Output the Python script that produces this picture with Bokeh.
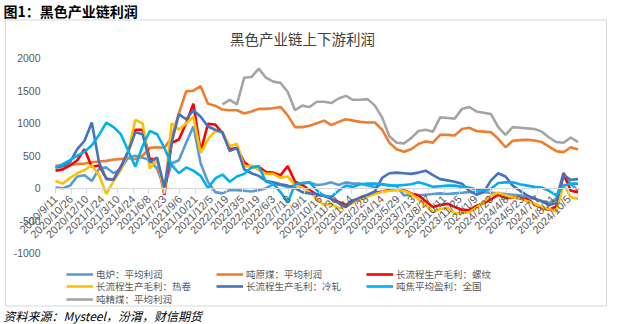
import math
from datetime import datetime, timedelta
import pandas as pd
from bokeh.plotting import figure
from bokeh.models import (Range1d, FixedTicker, Legend, LegendItem, Label,
                          BoxAnnotation, ColumnDataSource)
from bokeh.embed import file_html
from bokeh.resources import INLINE

NaN = float("nan")

# sample dates (every three weeks)
dates = pd.date_range("2020-09-11", periods=73, freq="21D")

tick_labels = ["2020/9/11", "2020/10/26", "2020/12/10", "2021/1/24", "2021/3/10",
               "2021/4/24", "2021/6/8", "2021/7/23", "2021/9/6", "2021/10/21",
               "2021/12/5", "2022/1/19", "2022/3/5", "2022/4/19", "2022/6/3",
               "2022/7/18", "2022/9/1", "2022/10/16", "2022/11/30", "2023/1/14",
               "2023/2/28", "2023/4/14", "2023/5/29", "2023/7/13", "2023/8/27",
               "2023/10/11", "2023/11/25", "2024/1/9", "2024/2/23", "2024/4/8",
               "2024/5/23", "2024/7/7", "2024/8/21", "2024/10/5"]

y_ticks = [-1000, -500, 0, 500, 1000, 1500, 2000]
y_tick_labels = ["-1000", "-500", "0", "500", "1000", "1500", "2000"]

series_names = ["电炉：平均利润", "吨原煤：平均利润", "长流程生产毛利：螺纹",
                "长流程生产毛利：热卷", "长流程生产毛利：冷轧", "吨焦平均盈利：全国",
                "吨精煤：平均利润"]
series_colors = ["#5B9BD5", "#ED7D31", "#FF0000", "#FFC000", "#4472C4", "#00B0F0", "#A5A5A5"]

eaf = [10, 0, 40, 180, 200, 110, 300, 320, 230, 300, 470, 500, 470, 430, 300, 10,
       380, 430, 700, 950, 380, 100, -60, -80, -30, -30, -40, -50, -30, 0, 60, 50,
       20, 40, 70, 90, 50, 60, 90, 50, 90, 70, 70, 40, 20, 60, 50, 30, -110, -100,
       -110, -100, -90, -80, -90, -80, -70, -60, -60, -60, -70, -80, -90, -100, -110,
       -140, -160, -200, -230, -160, 240, 60, -30]

raw_coal = [350, 340, 360, 370, 380, 400, 410, 420, 440, 450, 460, 450, 500, 620, 630,
            620, 780, 1150, 1490, 1500, 1570, 1300, 1270, 1210, 1200, 1200, 1150, 1180,
            1220, 1220, 1230, 1250, 1120, 940, 940, 960, 1000, 1040, 970, 1020, 1060,
            1040, 1020, 1010, 1010, 900, 700, 600, 560, 600, 680, 720, 700, 820, 820,
            810, 910, 930, 880, 870, 860, 760, 630, 730, 740, 745, 735, 710, 640, 570,
            555, 630, 595]

rebar = [270, 290, 350, 430, 600, 330, 350, 150, 130, 330, 560, 900, 900, 450, 450, -100,
         700, 750, 1000, 1300, 560, 990, 980, 850, 600, 620, 400, 320, 330, 250, 240, 200,
         340, 100, 50, -30, -100, -120, -160, -210, -260, -190, -150, -110, -70, -50, -30,
         -20, -30, -80, -110, -200, -290, -260, -240, -290, -330, -340, -270, -230, -170,
         -100, -150, -140, -150, -170, -250, -300, -330, -280, 220, -40, -60]

hrc = [110, 70, 160, 230, 280, 350, 200, -90, 110, 280, 560, 1050, 1000, 300, 450, -80,
       1000, 900, 1000, 1100, 540, 750, 880, 860, 650, 680, 330, 350, 280, 220, 220, 160,
       180, 40, 10, -60, -160, -260, -240, -310, -280, -220, -170, -130, -90, -60, -40,
       -30, -40, -90, -170, -260, -370, -320, -300, -390, -380, -370, -300, -210, -110,
       -70, -110, -140, -160, -200, -240, -290, -320, -360, 60, -140, -160]

crc = [320, 340, 400, 600, 730, 1010, 400, 140, 130, 320, 560, 860, 830, 400, 470, 10,
       700, 1140, 1060, 1200, 1100, 950, 900, 860, 570, 620, 290, 230, 190, 110, 90, 60,
       40, 0, -60, -80, -90, -110, -160, -230, -290, -200, -140, -100, -50, 160, 230,
       240, 230, 220, 240, 270, 200, 140, 120, 100, 70, -40, -100, -60, 120, 230, 180,
       40, -40, -110, -160, -200, -260, -230, 200, 130, 140]

coke = [320, 370, 430, 500, 560, 660, 820, 1010, 940, 830, 580, 330, 650, 880, 830, 620,
        360, 230, 320, 270, 190, 0, 150, 210, 100, 180, 220, 320, 340, 100, 70, -60, -220,
        60, 80, 90, -30, -120, -130, -40, 40, 20, 60, 70, 70, 60, 40, 40, 50, 60, 90, 60,
        20, 30, 40, 40, 20, 10, -20, -30, -10, 80, 90, 90, 60, 40, 20, 10, -40, -110, 40,
        70, 70]

clean_coal = [NaN] * 23 + [1290, 1360, 1290, 1700, 1710, 1840, 1700, 1640, 1620, 1480, 1200,
                           1270, 1250, 1330, 1330, 1310, 1380, 1420, 1360, 1360, 1370, 1270,
                           1090, 800, 700, 690, 770, 880, 900, 870, 1090, 1080, 1070, 1220,
                           1250, 1180, 1160, 1140, 940, 820, 940, 930, 920, 910, 870, 780,
                           710, 700, 780, 710]

source = ColumnDataSource(dict(
    date=dates, eaf=eaf, raw_coal=raw_coal, rebar=rebar, hrc=hrc, crc=crc,
    coke=coke, clean_coal=clean_coal))
cols = ["eaf", "raw_coal", "rebar", "hrc", "crc", "coke", "clean_coal"]

# ---- layout geometry (pixels) ----
W, H = 641, 324
AX_L, AX_R = 55, 580          # horizontal extent of the date axis
Y_TOP, Y_BOT = 57.7, 252.7    # pixel rows of 2000 and -1000
t0 = datetime(2020, 9, 11)
t1 = datetime(2024, 11, 8)
ppd = (AX_R - AX_L) / (t1 - t0).days
x_start = t0 - timedelta(days=AX_L / ppd)
x_end = t0 + timedelta(days=(W - AX_L) / ppd)
ppu = (Y_BOT - Y_TOP) / 3000.0
y_end = 2000 + Y_TOP / ppu
y_start = -1000 - (H - Y_BOT) / ppu

p = figure(width=W, height=H, x_axis_type="datetime", output_backend="svg",
           toolbar_location=None, title=None,
           x_range=Range1d(x_start, x_end), y_range=Range1d(y_start, y_end),
           min_border_left=0, min_border_right=0, min_border_top=0,
           min_border_bottom=0)
p.outline_line_color = None
p.background_fill_color = "white"
p.border_fill_color = "white"
p.xgrid.visible = False
p.ygrid.visible = False

box = BoxAnnotation(left=5, right=606, top=H - 19.5, bottom=H - 305.5,
                    left_units="screen", right_units="screen",
                    top_units="screen", bottom_units="screen",
                    fill_alpha=0, line_color="#D9D9D9", line_alpha=1, line_width=1)
p.add_layout(box)

renderers = []
for c, color in zip(cols, series_colors):
    r = p.line("date", c, source=source, line_color=color, line_width=2.6)
    renderers.append(r)

t0_ms = int(pd.Timestamp(t0).value // 10**6)
t1_ms = int(pd.Timestamp(t1).value // 10**6)

# x axis crossing at zero
tick_ms = [int(pd.Timestamp(s).value // 10**6) for s in tick_labels]
xa = p.xaxis[0]
xa.fixed_location = 0
xa.bounds = (t0_ms, t1_ms)
xa.ticker = FixedTicker(ticks=tick_ms)
xa.major_label_overrides = {t: s for t, s in zip(tick_ms, tick_labels)}
xa.major_label_orientation = math.pi / 4
xa.axis_line_color = "#D9D9D9"
xa.major_tick_line_color = "#D9D9D9"
xa.major_tick_in = 0
xa.major_tick_out = 5
xa.minor_tick_line_color = None
xa.major_label_text_font = "Liberation Sans"
xa.major_label_text_font_size = "11px"
xa.major_label_text_color = "#595959"
xa.major_label_standoff = 4

ya = p.yaxis[0]
ya.fixed_location = t0_ms
ya.ticker = FixedTicker(ticks=y_ticks)
ya.major_label_overrides = {t: s for t, s in zip(y_ticks, y_tick_labels)}
ya.axis_line_color = None
ya.major_tick_line_color = None
ya.minor_tick_line_color = None
ya.major_label_text_font = "Liberation Sans"
ya.major_label_text_font_size = "10.5px"
ya.major_label_text_color = "#595959"
ya.major_label_standoff = 9

# legend: one Legend per row so that the row pitch matches the reference
row_centers = [273.5, 286, 298.5]
ROW_H = 14
for row, yc in enumerate(row_centers):
    items = [LegendItem(label=series_names[i], renderers=[renderers[i]])
             for i in range(row * 3, min(row * 3 + 3, len(series_names)))]
    lg = Legend(items=items, orientation="horizontal",
                location=(66, H - (yc + ROW_H / 2)))
    lg.margin = 0
    lg.padding = 0
    lg.spacing = 0
    lg.border_line_color = None
    lg.background_fill_alpha = 0
    lg.glyph_width = 27
    lg.glyph_height = 10
    lg.label_height = 10
    lg.label_width = 120
    lg.label_standoff = 3
    lg.label_text_font = "Noto Sans CJK SC"
    lg.label_text_font_size = "9.5px"
    lg.label_text_color = "#595959"
    p.add_layout(lg)

p.add_layout(Label(x=3, y=H - 10, x_units="screen", y_units="screen",
                   text="图1：黑色产业链利润", text_font="Noto Sans CJK SC",
                   text_font_size="14px", text_font_style="bold", text_color="black",
                   text_baseline="middle"))
p.add_layout(Label(x=302, y=H - 38, x_units="screen", y_units="screen",
                   text="黑色产业链上下游利润", text_font="Noto Sans CJK SC",
                   text_font_size="14.5px", text_color="#404040",
                   text_align="center", text_baseline="middle"))
p.add_layout(Label(x=3, y=H - 314.5, x_units="screen", y_units="screen",
                   text="资料来源：Mysteel，汾渭，财信期货", text_font="Noto Sans CJK SC",
                   text_font_size="12px", text_font_style="italic", text_color="black",
                   text_baseline="middle"))

open("out.html", "w").write(file_html(p, INLINE))
